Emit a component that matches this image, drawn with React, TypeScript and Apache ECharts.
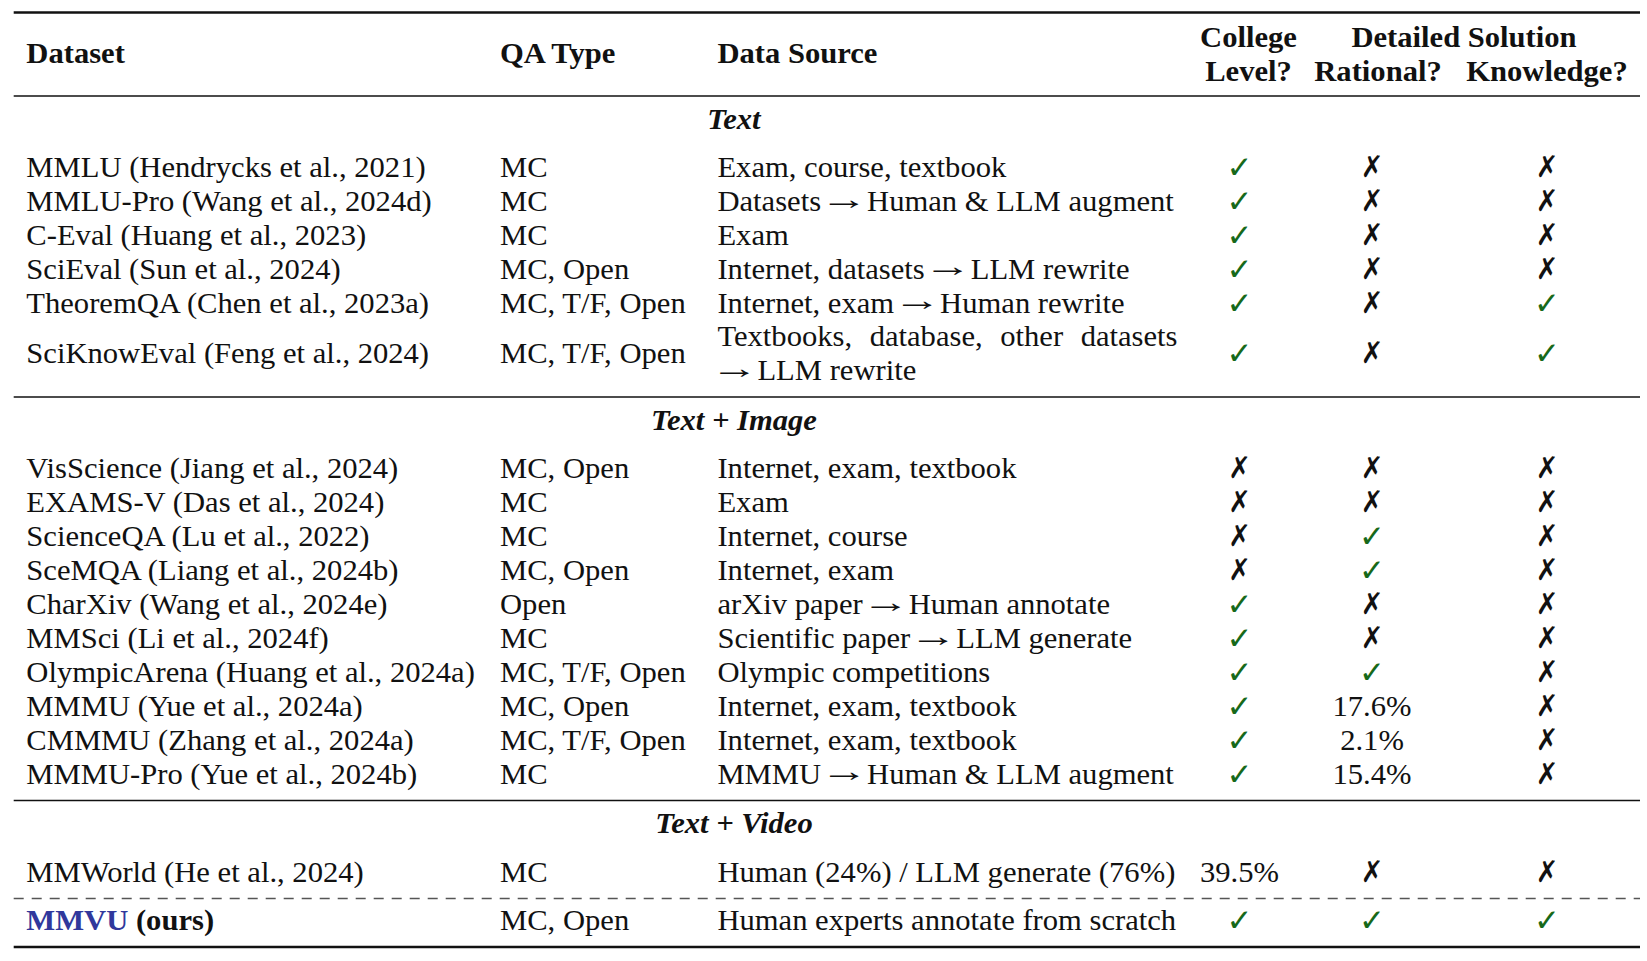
import React, { useEffect, useRef } from "react";
import * as echarts from "echarts";

// ---------------- data ----------------
const headerCols = ["Dataset", "QA Type", "Data Source"];
const headerTop = ["College", "Detailed Solution"];
const headerBottom = ["Level?", "Rational?", "Knowledge?"];
const sectionTitles = ["Text", "Text + Image", "Text + Video"];

const sectionOf = [0, 0, 0, 0, 0, 0, 1, 1, 1, 1, 1, 1, 1, 1, 1, 1, 2, 2];
const datasets = [
  "MMLU (Hendrycks et al., 2021)",
  "MMLU-Pro (Wang et al., 2024d)",
  "C-Eval (Huang et al., 2023)",
  "SciEval (Sun et al., 2024)",
  "TheoremQA (Chen et al., 2023a)",
  "SciKnowEval (Feng et al., 2024)",
  "VisScience (Jiang et al., 2024)",
  "EXAMS-V (Das et al., 2024)",
  "ScienceQA (Lu et al., 2022)",
  "SceMQA (Liang et al., 2024b)",
  "CharXiv (Wang et al., 2024e)",
  "MMSci (Li et al., 2024f)",
  "OlympicArena (Huang et al., 2024a)",
  "MMMU (Yue et al., 2024a)",
  "CMMMU (Zhang et al., 2024a)",
  "MMMU-Pro (Yue et al., 2024b)",
  "MMWorld (He et al., 2024)",
  "MMVU|(ours)",
];
const qaTypes = [
  "MC", "MC", "MC", "MC, Open", "MC, T/F, Open", "MC, T/F, Open",
  "MC, Open", "MC", "MC", "MC, Open", "Open", "MC", "MC, T/F, Open", "MC, Open", "MC, T/F, Open", "MC",
  "MC", "MC, Open",
];
const dataSources = [
  "Exam, course, textbook",
  "Datasets \u2192 Human & LLM augment",
  "Exam",
  "Internet, datasets \u2192 LLM rewrite",
  "Internet, exam \u2192 Human rewrite",
  "Textbooks, database, other datasets\n\u2192 LLM rewrite",
  "Internet, exam, textbook",
  "Exam",
  "Internet, course",
  "Internet, exam",
  "arXiv paper \u2192 Human annotate",
  "Scientific paper \u2192 LLM generate",
  "Olympic competitions",
  "Internet, exam, textbook",
  "Internet, exam, textbook",
  "MMMU \u2192 Human & LLM augment",
  "Human (24%) / LLM generate (76%)",
  "Human experts annotate from scratch",
];
// Y = check, N = cross, otherwise a value
const collegeLevel = ["Y", "Y", "Y", "Y", "Y", "Y", "N", "N", "N", "N", "Y", "Y", "Y", "Y", "Y", "Y", "39.5%", "Y"];
const rationale = ["N", "N", "N", "N", "N", "N", "N", "N", "Y", "Y", "N", "N", "Y", "17.6%", "2.1%", "15.4%", "N", "Y"];
const knowledge = ["N", "N", "N", "N", "Y", "Y", "N", "N", "N", "N", "N", "N", "N", "N", "N", "N", "N", "Y"];

// ---------------- layout / style ----------------
const FS = 30;
const SX = 1.02;
const FONT = "Liberation Serif";
const SYM_FONT = "DejaVu Sans";
const ARROW_FS = 30;
const ARROW_SX = 1.6;
const ARROW_INK = 34;
const ARROW_GAP_BEFORE = 6;
const ARROW_GAP_AFTER = 6;
const ARROW_DY = -2.5;
const COL_X = [26.3, 500, 717.4];
const SRC_RIGHT = 1177.5;
const MARK_X = [1239.5, 1372, 1547];
const HEAD_TOP_X = [1248.5, 1464];
const HEAD_Y_SINGLE = 53.3;
const HEAD_Y = [36.8, 70.8];
const SECTION_TITLE_X = 734;
const SECTION_TITLE_Y = [118.7, 420.2, 823.5];
const SECTION_FIRST_Y = [167, 468.5, 871.8];
const OURS_Y = 920.2;
const ROW_H = 33.9;
const LINE_X = [13.7, 1640];
const RULES = [
  { y: 12.5, w: 2.4, dash: null },
  { y: 96, w: 1.5, dash: null },
  { y: 397, w: 1.5, dash: null },
  { y: 800.5, w: 1.5, dash: null },
  { y: 898.5, w: 1.4, dash: [10, 8] },
  { y: 947, w: 2.4, dash: null },
];
const CHECK_COLOR = "#17691a";
const OURS_COLOR = "#30389c";
const INK = "#111111";

let measureCtx: CanvasRenderingContext2D | null = null;
function measure(s: string, font: string, size: number, weight = "normal") {
  if (!measureCtx) measureCtx = document.createElement("canvas").getContext("2d");
  measureCtx!.font = `${weight} ${size}px "${font}"`;
  return measureCtx!.measureText(s).width;
}
function textWidth(s: string, weight = "normal") {
  return measure(s, FONT, FS, weight) * SX;
}

function txt(text: string, x: number, y: number, opts: any = {}) {
  return {
    type: "text",
    x,
    y,
    scaleX: opts.scaleX ?? SX,
    style: {
      text,
      fill: opts.fill ?? INK,
      fontSize: opts.fontSize ?? FS,
      fontFamily: opts.fontFamily ?? FONT,
      fontWeight: opts.fontWeight ?? "normal",
      fontStyle: opts.fontStyle ?? "normal",
      align: opts.align ?? "left",
      verticalAlign: "middle",
      textAlign: opts.align ?? "left",
      textVerticalAlign: "middle",
    },
  };
}

// a run of text where "→" is drawn as a wider math-like arrow
function run(els: any[], s: string, x0: number, y: number) {
  const parts = s.split("\u2192");
  let x = x0;
  parts.forEach((p, i) => {
    const seg = p.trim();
    if (seg) {
      els.push(txt(seg, x, y));
      x += textWidth(seg);
    }
    if (i < parts.length - 1) {
      if (seg) x += ARROW_GAP_BEFORE;
      els.push(txt("\u2192", x + ARROW_INK / 2, y + ARROW_DY, { fontSize: ARROW_FS, scaleX: ARROW_SX, align: "center" }));
      x += ARROW_INK + ARROW_GAP_AFTER;
    }
  });
}

function markCell(v: string, x: number, y: number) {
  if (v === "Y") return txt("\u2713", x, y, { fontFamily: SYM_FONT, fontSize: 31, fontWeight: "bold", fill: CHECK_COLOR, align: "center", scaleX: 1 });
  if (v === "N") return txt("\u2717", x, y, { fontFamily: SYM_FONT, fontSize: 30, fontWeight: "bold", align: "center", scaleX: 0.9 });
  return txt(v, x, y, { align: "center" });
}

function buildGraphic() {
  const els: any[] = [];
  RULES.forEach((r) => {
    els.push({
      type: "line",
      shape: { x1: LINE_X[0], y1: r.y, x2: LINE_X[1], y2: r.y },
      style: { stroke: r.dash ? "#555555" : INK, lineWidth: r.w, lineDash: r.dash || undefined },
    });
  });
  headerCols.forEach((h, i) => els.push(txt(h, COL_X[i], HEAD_Y_SINGLE, { fontWeight: "bold" })));
  headerTop.forEach((h, i) => els.push(txt(h, HEAD_TOP_X[i], HEAD_Y[0], { fontWeight: "bold", align: "center" })));
  headerBottom.forEach((h, i) =>
    els.push(txt(h, i === 0 ? HEAD_TOP_X[0] : MARK_X[i] + (i === 1 ? 6 : 0), HEAD_Y[1], { fontWeight: "bold", align: "center" }))
  );
  sectionTitles.forEach((t, i) =>
    els.push(txt(t, SECTION_TITLE_X, SECTION_TITLE_Y[i], { fontWeight: "bold", fontStyle: "italic", align: "center" }))
  );
  const cursor = SECTION_FIRST_Y.slice();
  datasets.forEach((name, r) => {
    const s = sectionOf[r];
    const lines = dataSources[r].split("\n");
    const isOurs = name.includes("|");
    const top = isOurs ? OURS_Y : cursor[s];
    const cy = top + ((lines.length - 1) * ROW_H) / 2;
    if (!isOurs) cursor[s] += lines.length * ROW_H;

    if (isOurs) {
      const [a, b] = name.split("|");
      els.push(txt(a, COL_X[0], cy, { fontWeight: "bold", fill: OURS_COLOR }));
      els.push(txt(b, COL_X[0] + textWidth(a + " ", "bold"), cy, { fontWeight: "bold" }));
    } else {
      els.push(txt(name, COL_X[0], cy));
    }
    els.push(txt(qaTypes[r], COL_X[1], cy));
    lines.forEach((ln, k) => {
      const ly = top + k * ROW_H;
      if (k < lines.length - 1) {
        const words = ln.split(" ");
        const total = words.reduce((acc, w) => acc + textWidth(w), 0);
        const gap = (SRC_RIGHT - COL_X[2] - total) / (words.length - 1);
        let x = COL_X[2];
        words.forEach((w) => {
          els.push(txt(w, x, ly));
          x += textWidth(w) + gap;
        });
      } else {
        run(els, ln, COL_X[2], ly);
      }
    });
    els.push(markCell(collegeLevel[r], MARK_X[0], cy));
    els.push(markCell(rationale[r], MARK_X[1], cy));
    els.push(markCell(knowledge[r], MARK_X[2], cy));
  });
  return els;
}

export default function App() {
  const ref = useRef<HTMLDivElement>(null);
  useEffect(() => {
    if (!ref.current) return;
    const chart = echarts.init(ref.current, null, { renderer: "svg" });
    chart.setOption({
      animation: false,
      backgroundColor: "#ffffff",
      graphic: { elements: buildGraphic() },
    });
    return () => chart.dispose();
  }, []);
  return (
    <div
      ref={ref}
      style={{ position: "fixed", left: 0, top: 0, width: 1647, height: 961, background: "#fff" }}
    />
  );
}
